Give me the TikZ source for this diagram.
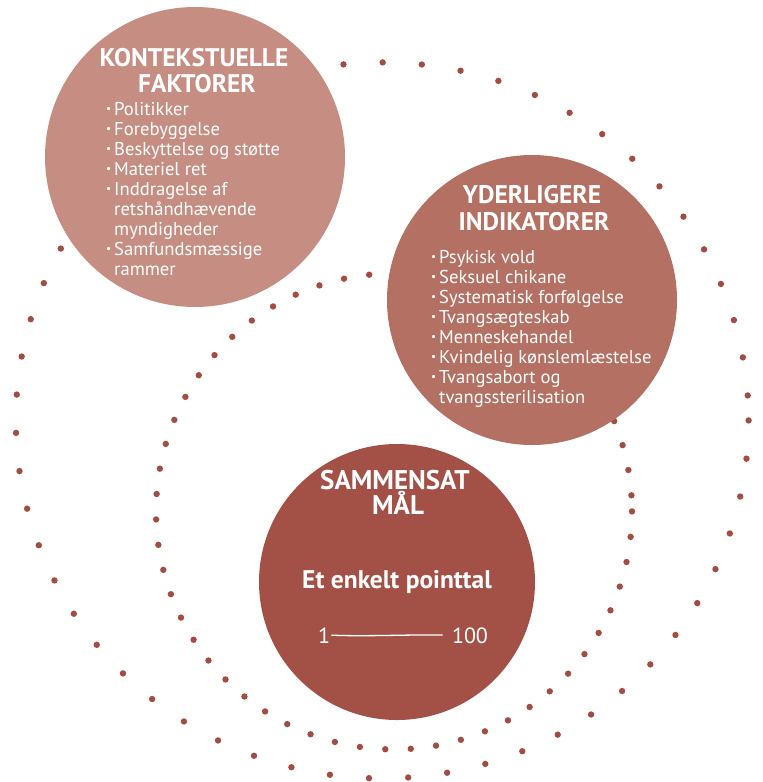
\documentclass[tikz,border=0pt]{standalone}
\usepackage{fontspec}
\setmainfont{PT Sans}
\definecolor{cone}{HTML}{C68E82}
\definecolor{ctwo}{HTML}{B47062}
\definecolor{cthree}{HTML}{A35147}
\definecolor{dotc}{HTML}{A24D44}
\newcommand{\bul}{\makebox[8pt][l]{\raisebox{0.28ex}{\scalebox{0.6}{•}}}}
\newcommand{\indt}{\hspace*{8pt}}
\begin{document}
\begin{tikzpicture}[x=1pt,y=-1pt,
  bigcirc/.style={circle,inner sep=0pt,minimum size=#1,draw=none},
  titletxt/.style={text=white,anchor=base,inner sep=0pt,font=\bfseries\fontsize{25.5}{27}\selectfont},
  bigtitletxt/.style={text=white,anchor=base,inner sep=0pt,font=\bfseries\fontsize{27}{27}\selectfont},
  listtxt/.style={text=white,anchor=base west,inner sep=0pt,font=\fontsize{18.6}{20}\selectfont},
  scoretxt/.style={text=white,anchor=base,inner sep=0pt,font=\bfseries\fontsize{25.5}{27}\selectfont},
  numtxt/.style={text=white,anchor=base,inner sep=1.5pt,font=\fontsize{22}{24}\selectfont},
  dot/.style={fill=dotc}]
\useasboundingbox (0,0) rectangle (763,782);
% dotted rings
\foreach \i in {0,...,58}{
  \fill[dot] ({382.2+366.4*cos(\i*6.138)},{420.4+358*sin(\i*6.138)}) circle[radius=3.2pt];
  \fill[dot] ({394+238*cos(\i*6.14)},{511.4+238*sin(\i*6.14)}) circle[radius=3.2pt];
}
% circles
\node[bigcirc=300pt,fill=cone] (kf) at (195,157) {};
\node[bigcirc=290pt,fill=ctwo] (yi) at (532,300) {};
\node[bigcirc=276pt,fill=cthree] (sm) at (397,582) {};
% circle 1 text
\node[titletxt] (kft1) at (194,66) {KONTEKSTUELLE};
\node[titletxt] (kft2) at (197,92) {FAKTORER};
\foreach \t [count=\i from 0] in {{\bul Politikker},{\bul Forebyggelse},{\bul Beskyttelse og støtte},{\bul Materiel ret},{\bul Inddragelse af},{\indt retshåndhævende},{\indt myndigheder},{\bul Samfundsmæssige},{\indt rammer}}
  \node[listtxt] (kfl\i) at (106,115+20*\i) {\t};
% circle 2 text
\node[titletxt] (yit1) at (532,203) {YDERLIGERE};
\node[titletxt] (yit2) at (534,230) {INDIKATORER};
\foreach \t [count=\i from 0] in {{\bul Psykisk vold},{\bul Seksuel chikane},{\bul Systematisk forfølgelse},{\bul Tvangsægteskab},{\bul Menneskehandel},{\bul Kvindelig kønslemlæstelse},{\bul Tvangsabort og},{\indt tvangssterilisation}}
  \node[listtxt] (yil\i) at (431,263+20*\i) {\t};
% circle 3 text
\node[bigtitletxt] (smt1) at (395,489) {SAMMENSAT};
\node[bigtitletxt] (smt2) at (398,514) {MÅL};
\node[scoretxt] (smp) at (397,588) {Et enkelt pointtal};
\node[numtxt] (one) at (324,643) {1};
\node[numtxt] (hundred) at (470,643) {100};
\draw[white,line width=1.3pt,line cap=round,shorten >=8pt] (one.east) .. controls +(35,1.5) and +(-35,-1) .. (hundred.west);
\end{tikzpicture}
\end{document}
